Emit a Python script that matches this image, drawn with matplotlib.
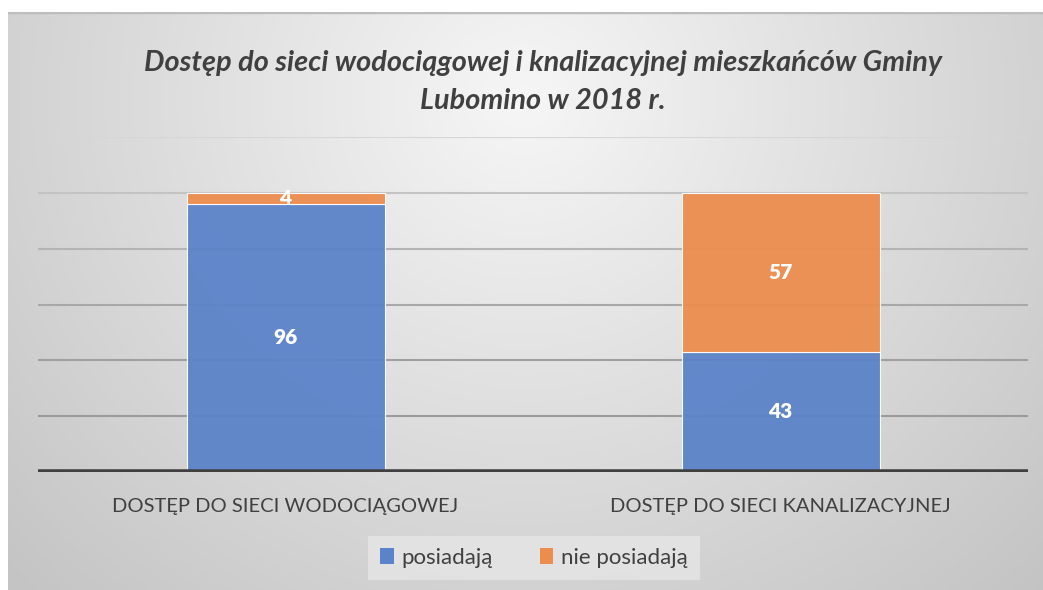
import numpy as np
import matplotlib
matplotlib.use("Agg")
import matplotlib.pyplot as plt
from matplotlib.patches import Patch

plt.rcParams["font.family"] = ["Lato", "DejaVu Sans"]

categories = ["DOSTĘP DO SIECI WODOCIĄGOWEJ", "DOSTĘP DO SIECI KANALIZACYJNEJ"]
posiadaja = [96, 43]
nie_posiadaja = [4, 57]
series_names = ["posiadają", "nie posiadają"]
title = "Dostęp do sieci wodociągowej i knalizacyjnej mieszkańców Gminy\nLubomino w 2018 r."

BLUE = "#5B83C9"
ORANGE = "#EC8D4E"
TEXT = "#404040"

W, H = 1043, 590
fig = plt.figure(figsize=(W / 100, H / 100), dpi=100)
fig.patch.set_facecolor("white")

# radial grey background of the chart area
bg = fig.add_axes([8 / W, 0, 1 - 8 / W, (H - 12) / H])
bg.set_axis_off()
yy, xx = np.mgrid[0:1:300j, 0:1:500j]
r = np.sqrt(((xx - 0.5) / 0.5) ** 2 + ((yy - 0.15) / 0.85) ** 2)
v = np.clip(0.965 - 0.14 * r, 0, 1)
bg.imshow(np.dstack([v, v, v]), aspect="auto", extent=[0, 1, 1, 0])
bg.set_xlim(0, 1)
bg.set_ylim(1, 0)
bg.axhline(0.0, color="#bdbdbd", lw=2.5)

ax = fig.add_axes([38 / W, (H - 472) / H, 990 / W, 335 / H])
ax.patch.set_alpha(0)
x = np.arange(len(categories))
ax.set_xlim(-0.5, len(categories) - 0.5)
ax.set_ylim(0, 120)

# gridlines fade lighter toward the top
ticks = np.arange(20, 121, 20)
for t in ticks:
    c = 0.60 + 0.24 * (t / 120) ** 2
    ax.axhline(t, color=(c, c, c), lw=1.5, zorder=0)

b1 = ax.bar(x, posiadaja, width=0.4, color=BLUE, edgecolor="white",
            linewidth=0.8, alpha=0.95, zorder=2)
b2 = ax.bar(x, nie_posiadaja, width=0.4, bottom=posiadaja, color=ORANGE,
            edgecolor="white", linewidth=0.8, alpha=0.95, zorder=2)
ax.bar_label(b1, labels=[str(v) for v in posiadaja], label_type="center",
             color="white", fontsize=15, fontweight="heavy")
ax.bar_label(b2, labels=[str(v) for v in nie_posiadaja], label_type="center",
             color="white", fontsize=15, fontweight="heavy")

ax.axhline(0, color="#404040", lw=4, zorder=3)
for s in ax.spines.values():
    s.set_visible(False)
ax.set_yticks([])
ax.set_xticks(x)
ax.set_xticklabels(categories, fontsize=14.5, color=TEXT)
ax.tick_params(axis="x", length=0, pad=19)

fig.text(543 / W, 1 - 82 / H, title, ha="center", va="center",
         fontsize=20.8, fontweight="bold", fontstyle="italic", color=TEXT,
         linespacing=1.55)

handles = [Patch(facecolor=BLUE), Patch(facecolor=ORANGE)]
leg = fig.legend(handles, series_names, loc="center",
                 bbox_to_anchor=(534 / W, 1 - 558 / H), ncol=2,
                 fontsize=16, frameon=True, handlelength=0.6,
                 handleheight=0.75, handletextpad=0.35, columnspacing=2.1,
                 borderpad=0.55, borderaxespad=0)
leg.get_frame().set_facecolor("#e6e6e6")
leg.get_frame().set_edgecolor("none")
leg.get_frame().set_alpha(0.8)
leg.get_frame().set_boxstyle("square", pad=0)
for t in leg.get_texts():
    t.set_color(TEXT)

fig.savefig("out.png", dpi=100)
